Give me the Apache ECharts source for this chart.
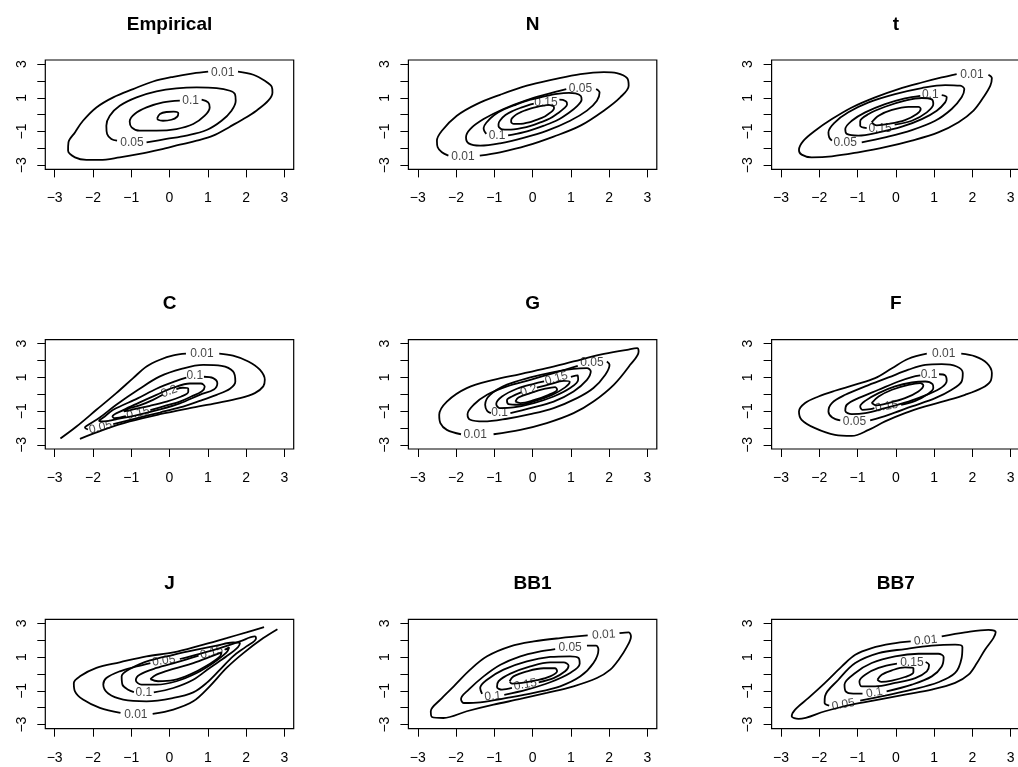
<!DOCTYPE html>
<html>
<head>
<meta charset="utf-8">
<script src="https://cdn.jsdelivr.net/npm/echarts@6/dist/echarts.min.js"></script>
<style>
  html, body { margin: 0; padding: 0; background: #fff; }
  #chart { width: 1018px; height: 767px; }
</style>
</head>
<body>
<div id="chart"></div>
<script>
// Panel titles, in reading order (3 x 3)
const panelTitles = ['Empirical', 'N', 't', 'C', 'G', 'F', 'J', 'BB1', 'BB7'];

// Axis ticks and labels
const xTickValues = [-3, -2, -1, 0, 1, 2, 3];
const yTickValues = [-3, -2, -1, 0, 1, 2, 3];
const yLabelValues = [-3, -1, 1, 3];
const axisLimit = 3.245;

// Contour lines: each path is a list of [x, y]; labelled contours are open at the label
const empiricalPaths = [
  [[1.79,2.55],[2.19,2.37],[2.49,2.01],[2.67,1.66],[2.69,1.32],[2.58,0.83],[2.27,0.24],[1.93,-0.26],[1.58,-0.71],[1.14,-1.24],[0.71,-1.54],[0.27,-1.78],[-0.25,-2.07],[-0.78,-2.33],[-1.30,-2.53],[-1.82,-2.68],[-2.17,-2.68],[-2.47,-2.53],[-2.65,-2.13],[-2.64,-1.64],[-2.47,-1.05],[-2.26,-0.36],[-1.91,0.43],[-1.47,1.03],[-0.95,1.52],[-0.43,1.97],[0.10,2.25],[0.62,2.45],[1.01,2.55]],
  [[-0.60,-1.64],[-0.08,-1.44],[0.44,-1.24],[0.97,-0.91],[1.36,-0.36],[1.62,0.24],[1.73,0.83],[1.71,1.22],[1.58,1.42],[1.23,1.58],[0.71,1.62],[0.18,1.56],[-0.34,1.38],[-0.86,1.03],[-1.30,0.53],[-1.56,-0.06],[-1.65,-0.65],[-1.63,-1.15],[-1.52,-1.44],[-1.37,-1.54]],
  [[0.84,0.89],[1.01,0.73],[1.05,0.43],[0.92,-0.06],[0.62,-0.55],[0.18,-0.85],[-0.34,-0.95],[-0.78,-0.95],[-0.99,-0.75],[-1.04,-0.40],[-0.91,0.04],[-0.60,0.43],[-0.17,0.73],[0.27,0.83]],
  [[-0.32,-0.20],[-0.25,0.04],[-0.08,0.16],[0.11,0.18],[0.23,0.08],[0.20,-0.12],[0.05,-0.30],[-0.17,-0.36],[-0.30,-0.30],[-0.32,-0.20]]
];
const empiricalLabels = [[1.39,2.51,'0.01',0],[0.55,0.83,'0.1',0],[-0.98,-1.66,'0.05',0]];

const normalPaths = [
  [[-1.38,-2.43],[-0.85,-2.23],[-0.15,-1.84],[0.55,-1.30],[1.25,-0.65],[1.86,0.24],[2.29,1.03],[2.51,1.72],[2.47,2.17],[2.20,2.47],[1.86,2.53],[1.25,2.41],[0.55,2.09],[-0.15,1.72],[-0.85,1.18],[-1.46,0.63],[-1.98,-0.06],[-2.37,-0.95],[-2.50,-1.54],[-2.48,-1.93],[-2.37,-2.23],[-2.20,-2.43]],
  [[1.66,1.52],[1.75,1.32],[1.68,0.83],[1.42,0.24],[0.98,-0.36],[0.38,-0.95],[-0.24,-1.38],[-0.85,-1.70],[-1.37,-1.84],[-1.67,-1.70],[-1.74,-1.34],[-1.63,-0.85],[-1.28,-0.26],[-0.76,0.34],[-0.15,0.87],[0.38,1.22],[0.88,1.52]],
  [[-0.64,-1.23],[-0.43,-1.14],[-0.08,-0.94],[0.28,-0.66],[0.64,-0.33],[0.95,0.12],[1.17,0.53],[1.28,0.88],[1.26,1.11],[1.12,1.26],[0.95,1.29],[0.64,1.23],[0.28,1.07],[-0.08,0.88],[-0.43,0.60],[-0.74,0.32],[-1.01,-0.03],[-1.21,-0.48],[-1.28,-0.79],[-1.26,-0.98],[-1.21,-1.14]],
  [[0.03,0.66],[-0.05,0.61],[-0.30,0.42],[-0.52,0.22],[-0.71,-0.02],[-0.85,-0.34],[-0.89,-0.55],[-0.89,-0.69],[-0.85,-0.80],[-0.79,-0.87],[-0.64,-0.89],[-0.49,-0.87],[-0.30,-0.80],[-0.05,-0.66],[0.20,-0.46],[0.45,-0.23],[0.66,0.09],[0.82,0.37],[0.90,0.61],[0.88,0.77],[0.79,0.88],[0.70,0.90]],
  [[-0.31,-0.55],[-0.19,-0.50],[-0.04,-0.42],[0.12,-0.29],[0.29,-0.14],[0.42,0.06],[0.52,0.23],[0.56,0.38],[0.55,0.49],[0.49,0.55],[0.42,0.58],[0.29,0.54],[0.12,0.47],[-0.04,0.38],[-0.19,0.26],[-0.32,0.14],[-0.44,-0.01],[-0.54,-0.22],[-0.56,-0.35],[-0.56,-0.43],[-0.54,-0.50],[-0.49,-0.55],[-0.31,-0.55]]
];
const normalLabels = [[-1.82,-2.47,'0.01',0],[1.25,1.56,'0.05',0],[0.35,0.73,'0.15',0],[-0.93,-1.24,'0.1',0]];

const studentPaths = [
  [[2.42,2.37],[2.51,2.17],[2.47,1.72],[2.29,1.03],[2.03,0.24],[1.64,-0.45],[1.11,-1.05],[0.42,-1.54],[-0.28,-1.93],[-0.98,-2.23],[-1.67,-2.47],[-2.20,-2.53],[-2.46,-2.37],[-2.53,-2.09],[-2.41,-1.54],[-2.11,-0.95],[-1.67,-0.26],[-1.15,0.43],[-0.54,1.03],[0.07,1.52],[0.68,1.91],[1.20,2.21],[1.59,2.41]],
  [[-0.89,-1.64],[-0.28,-1.34],[0.42,-0.91],[1.03,-0.36],[1.46,0.34],[1.72,1.03],[1.79,1.52],[1.68,1.72],[1.29,1.76],[0.68,1.58],[-0.02,1.22],[-0.71,0.73],[-1.24,0.14],[-1.59,-0.45],[-1.76,-1.05],[-1.74,-1.34],[-1.67,-1.54]],
  [[1.20,1.16],[1.33,1.03],[1.29,0.73],[1.07,0.24],[0.68,-0.26],[0.16,-0.71],[-0.45,-1.05],[-0.98,-1.24],[-1.28,-1.14],[-1.32,-0.85],[-1.15,-0.36],[-0.80,0.14],[-0.28,0.63],[0.24,0.97],[0.64,1.12]],
  [[-0.03,-0.59],[0.42,-0.36],[0.81,0.14],[0.98,0.63],[0.94,0.91],[0.68,0.99],[0.24,0.83],[-0.28,0.47],[-0.71,0.04],[-0.93,-0.39],[-0.93,-0.65],[-0.76,-0.79]],
  [[-0.63,-0.45],[-0.45,-0.06],[-0.10,0.28],[0.33,0.47],[0.59,0.47],[0.65,0.34],[0.55,0.04],[0.24,-0.32],[-0.19,-0.55],[-0.50,-0.63],[-0.63,-0.45]]
];
const studentLabels = [[1.99,2.37,'0.01',0],[0.90,1.16,'0.1',0],[-0.41,-0.85,'0.15',0],[-1.32,-1.68,'0.05',0]];

const claytonPaths = [
  [[-2.85,-2.62],[-2.43,-1.91],[-1.91,-0.92],[-1.39,0.07],[-0.95,0.96],[-0.60,1.65],[-0.25,2.05],[0.10,2.31],[0.43,2.41]],
  [[1.30,2.41],[1.66,2.29],[2.06,1.95],[2.36,1.46],[2.49,0.86],[2.45,0.47],[2.23,0.07],[1.84,-0.23],[1.23,-0.52],[0.53,-0.82],[-0.25,-1.18],[-1.04,-1.61],[-1.73,-2.11],[-2.34,-2.64]],
  [[-1.47,-1.77],[-0.82,-1.40],[-0.25,-1.08],[0.27,-0.78],[0.79,-0.39],[1.23,-0.03],[1.58,0.33],[1.72,0.76],[1.66,1.36],[1.36,1.69],[0.88,1.75],[0.31,1.51],[-0.25,1.06],[-0.82,0.27],[-1.39,-0.62],[-1.82,-1.38],[-2.15,-1.85],[-2.21,-1.97],[-2.13,-2.09]],
  [[0.90,1.04],[1.14,0.96],[1.25,0.66],[1.16,0.29],[0.79,-0.03],[0.27,-0.54],[-0.25,-0.90],[-0.82,-1.22],[-1.39,-1.48],[-1.73,-1.61],[-1.84,-1.57],[-1.73,-1.38],[-1.47,-0.92],[-0.82,-0.23],[-0.34,0.33],[0.18,0.80],[0.44,0.99]],
  [[-0.50,-0.94],[-0.08,-0.66],[0.27,-0.43],[0.57,-0.13],[0.84,0.17],[0.92,0.45],[0.82,0.64],[0.53,0.64],[0.10,0.39],[-0.34,-0.03],[-0.82,-0.52],[-1.21,-0.94],[-1.49,-1.32],[-1.43,-1.42],[-1.14,-1.30]],
  [[0.18,0.31],[0.34,0.39],[0.49,0.33],[0.49,0.13],[0.31,-0.13],[-0.08,-0.43],[-0.51,-0.68],[-0.95,-0.90],[-1.19,-1.02],[-1.12,-0.88],[-0.78,-0.66],[-0.43,-0.33],[-0.18,-0.03]]
];
const claytonLabels = [[0.85,2.41,'0.01',0],[0.66,1.12,'0.1',0],[-0.01,0.17,'0.2',20],[-0.82,-1.12,'0.15',14],[-1.80,-1.96,'0.05',14]];

const gumbelPaths = [
  [[-1.02,-2.37],[-0.32,-2.11],[0.37,-1.71],[1.07,-1.12],[1.59,-0.43],[2.12,0.56],[2.55,1.75],[2.77,2.54],[2.73,2.74],[2.47,2.64],[1.77,2.35],[1.07,1.95],[0.37,1.55],[-0.32,1.20],[-1.02,0.86],[-1.72,0.37],[-2.24,-0.43],[-2.44,-1.22],[-2.41,-1.71],[-2.24,-2.11],[-1.87,-2.37]],
  [[1.94,1.95],[2.01,1.75],[1.90,1.16],[1.59,0.37],[1.16,-0.23],[0.55,-0.82],[-0.06,-1.18],[-0.67,-1.45],[-1.28,-1.61],[-1.63,-1.51],[-1.70,-1.18],[-1.54,-0.62],[-1.19,-0.03],[-0.67,0.47],[-0.06,0.86],[0.55,1.26],[1.18,1.69]],
  [[-0.58,-1.12],[-0.06,-0.82],[0.55,-0.43],[1.07,0.17],[1.42,0.86],[1.52,1.36],[1.42,1.55],[1.07,1.51],[0.55,1.32],[-0.06,1.00],[-0.67,0.57],[-1.11,-0.03],[-1.24,-0.62],[-1.19,-0.98],[-1.09,-1.12]],
  [[1.00,1.04],[1.18,1.12],[1.19,0.86],[0.98,0.37],[0.55,-0.13],[0.03,-0.52],[-0.50,-0.78],[-0.86,-0.82],[-0.95,-0.58],[-0.80,-0.13],[-0.41,0.33],[0.03,0.62],[0.30,0.76]],
  [[0.11,0.39],[0.46,0.60],[0.81,0.80],[0.97,0.74],[0.85,0.41],[0.51,-0.03],[0.07,-0.39],[-0.37,-0.62],[-0.63,-0.58],[-0.67,-0.35],[-0.54,-0.13],[-0.30,0.11]],
  [[-0.45,-0.43],[-0.37,-0.19],[-0.06,0.07],[0.33,0.33],[0.59,0.43],[0.64,0.27],[0.42,-0.03],[0.03,-0.35],[-0.32,-0.52],[-0.45,-0.43]]
];
const gumbelLabels = [[-1.50,-2.41,'0.01',0],[1.55,1.85,'0.05',0],[-0.86,-1.10,'0.1',0],[0.62,0.94,'0.15',15],[-0.10,0.22,'0.2',18]];

const frankPaths = [
  [[1.71,2.41],[2.07,2.25],[2.38,1.85],[2.51,1.26],[2.47,0.76],[2.25,0.37],[1.81,-0.03],[1.29,-0.39],[0.77,-0.72],[0.24,-1.12],[-0.28,-1.61],[-0.71,-2.11],[-1.15,-2.47],[-1.59,-2.41],[-2.11,-2.01],[-2.46,-1.51],[-2.53,-1.02],[-2.37,-0.52],[-2.02,-0.13],[-1.59,0.21],[-1.06,0.57],[-0.54,0.96],[-0.10,1.55],[0.33,2.11],[0.81,2.41]],
  [[-0.67,-1.55],[-0.19,-1.22],[0.42,-0.72],[1.03,-0.23],[1.46,0.27],[1.72,0.76],[1.75,1.26],[1.59,1.65],[1.20,1.79],[0.77,1.75],[0.33,1.46],[-0.19,1.00],[-0.80,0.47],[-1.32,-0.03],[-1.67,-0.52],[-1.76,-1.02],[-1.66,-1.38],[-1.45,-1.55]],
  [[1.13,1.19],[1.29,1.12],[1.33,0.80],[1.20,0.41],[0.85,0.01],[0.33,-0.43],[-0.28,-0.82],[-0.80,-1.12],[-1.15,-1.18],[-1.32,-0.98],[-1.28,-0.62],[-0.98,-0.23],[-0.45,0.27],[0.07,0.76],[0.42,1.02],[0.64,1.12]],
  [[0.14,-0.62],[0.51,-0.39],[0.81,-0.03],[0.98,0.37],[0.96,0.60],[0.77,0.76],[0.42,0.70],[-0.02,0.47],[-0.45,0.07],[-0.80,-0.39],[-0.93,-0.72],[-0.87,-0.92],[-0.67,-0.88],[-0.56,-0.82]],
  [[-0.63,-0.52],[-0.45,-0.13],[-0.10,0.27],[0.33,0.56],[0.64,0.66],[0.72,0.52],[0.59,0.17],[0.24,-0.23],[-0.19,-0.52],[-0.50,-0.66],[-0.63,-0.52]]
];
const frankLabels = [[1.25,2.41,'0.01',0],[0.87,1.16,'0.1',0],[-0.24,-0.72,'0.15',10],[-1.08,-1.61,'0.05',0]];

const joePaths = [
  [[-0.44,-2.37],[0.10,-2.11],[0.62,-1.62],[1.05,-0.73],[1.49,0.36],[1.93,1.24],[2.45,2.13],[2.82,2.66]],
  [[-1.28,-2.31],[-1.82,-2.01],[-2.26,-1.52],[-2.47,-1.03],[-2.50,-0.53],[-2.34,-0.14],[-1.91,0.36],[-1.30,0.69],[-0.60,1.05],[0.10,1.28],[0.79,1.68],[1.49,2.13],[2.01,2.47],[2.47,2.78]],
  [[0.27,0.89],[0.79,1.20],[1.32,1.54],[1.84,1.93],[2.23,2.23],[2.26,2.11],[2.01,1.64],[1.66,1.05],[1.32,0.26],[0.97,-0.53],[0.62,-1.09],[0.10,-1.42],[-0.60,-1.62],[-1.21,-1.52],[-1.60,-1.16],[-1.73,-0.63],[-1.65,-0.24],[-1.30,0.16],[-0.86,0.45],[-0.50,0.65]],
  [[-0.41,-1.09],[0.10,-0.83],[0.62,-0.34],[1.05,0.36],[1.49,1.05],[1.79,1.60],[1.84,1.84],[1.66,1.87],[1.23,1.68],[0.71,1.44],[0.10,1.14],[-0.51,0.81],[-0.99,0.36],[-1.25,-0.14],[-1.23,-0.63],[-1.08,-0.93],[-0.93,-1.07]],
  [[1.44,1.44],[1.56,1.58],[1.49,1.28],[1.14,0.65],[0.71,0.06],[0.18,-0.43],[-0.34,-0.63],[-0.73,-0.63],[-0.88,-0.37],[-0.78,-0.04],[-0.34,0.36],[0.18,0.69],[0.76,1.09]],
  [[-0.50,-0.30],[-0.34,-0.04],[0.10,0.30],[0.62,0.65],[1.14,1.09],[1.36,1.28],[1.32,1.05],[0.97,0.49],[0.53,-0.04],[0.10,-0.37],[-0.30,-0.43],[-0.50,-0.30]]
];
const joeLabels = [[-0.88,-2.41,'0.01',0],[-0.15,0.78,'0.05',8],[-0.67,-1.12,'0.1',0],[1.10,1.28,'0.15',15]];

const bb1Paths = [
  [[2.27,2.43],[2.51,2.47],[2.57,2.23],[2.47,1.64],[2.25,0.85],[2.03,0.26],[1.68,-0.24],[1.07,-0.73],[0.37,-1.12],[-0.32,-1.48],[-1.02,-1.82],[-1.72,-2.21],[-2.33,-2.61],[-2.63,-2.55],[-2.66,-2.21],[-2.41,-1.52],[-2.06,-0.73],[-1.63,0.26],[-1.19,1.05],[-0.58,1.64],[0.03,1.93],[0.72,2.13],[1.44,2.29]],
  [[1.42,1.68],[1.66,1.68],[1.72,1.44],[1.59,0.65],[1.25,-0.14],[0.72,-0.73],[0.03,-1.12],[-0.67,-1.42],[-1.37,-1.68],[-1.80,-1.72],[-1.87,-1.48],[-1.67,-0.93],[-1.28,-0.14],[-0.84,0.55],[-0.32,1.05],[0.20,1.34],[0.59,1.48]],
  [[-0.74,-1.24],[-0.15,-0.93],[0.46,-0.49],[0.98,0.06],[1.23,0.61],[1.20,0.95],[0.98,1.05],[0.46,1.01],[-0.15,0.75],[-0.76,0.26],[-1.19,-0.34],[-1.37,-0.83],[-1.32,-1.18]],
  [[0.16,-0.49],[0.55,-0.24],[0.85,0.16],[0.94,0.49],[0.81,0.69],[0.46,0.69],[-0.06,0.45],[-0.58,0.02],[-0.89,-0.43],[-0.93,-0.77],[-0.80,-0.93],[-0.54,-0.83]],
  [[-0.60,-0.43],[-0.50,-0.14],[-0.15,0.16],[0.29,0.34],[0.59,0.34],[0.64,0.16],[0.46,-0.14],[0.11,-0.37],[-0.28,-0.53],[-0.54,-0.57],[-0.60,-0.43]]
];
const bb1Labels = [[1.86,2.33,'0.01',3],[0.98,1.58,'0.05',0],[-1.04,-1.32,'0.1',5],[-0.19,-0.63,'0.15',10]];

const bb7Paths = [
  [[1.20,2.23],[1.81,2.47],[2.42,2.62],[2.61,2.49],[2.55,2.13],[2.33,1.44],[2.12,0.65],[1.90,-0.04],[1.55,-0.53],[0.94,-0.93],[0.24,-1.22],[-0.45,-1.52],[-1.15,-1.82],[-1.85,-2.21],[-2.54,-2.66],[-2.72,-2.51],[-2.63,-2.11],[-2.28,-1.42],[-1.85,-0.53],[-1.41,0.45],[-1.06,1.14],[-0.63,1.54],[-0.10,1.80],[0.39,1.93]],
  [[-0.93,-1.58],[-0.28,-1.28],[0.42,-0.93],[1.11,-0.49],[1.55,0.06],[1.72,0.95],[1.74,1.60],[1.55,1.74],[0.94,1.68],[0.24,1.48],[-0.45,1.24],[-1.06,0.65],[-1.50,-0.34],[-1.85,-1.32],[-1.86,-1.72],[-1.74,-1.87]],
  [[-0.24,-1.03],[0.42,-0.63],[0.94,-0.14],[1.20,0.45],[1.25,1.01],[1.11,1.20],[0.59,1.20],[-0.02,1.05],[-0.63,0.65],[-1.06,0.06],[-1.34,-0.63],[-1.31,-1.03],[-1.11,-1.16],[-0.87,-1.16]],
  [[0.78,0.71],[0.87,0.53],[0.81,0.16],[0.51,-0.24],[-0.02,-0.53],[-0.54,-0.73],[-0.89,-0.73],[-0.95,-0.43],[-0.80,-0.04],[-0.45,0.36],[0.03,0.61]],
  [[-0.48,-0.34],[-0.37,-0.04],[-0.10,0.22],[0.24,0.39],[0.46,0.36],[0.46,0.10],[0.24,-0.18],[-0.10,-0.39],[-0.38,-0.47],[-0.48,-0.34]]
];
const bb7Labels = [[0.78,1.99,'0.01',5],[0.42,0.65,'0.15',0],[-0.56,-1.12,'0.1',10],[-1.37,-1.82,'0.05',10]];

const panelPaths = [empiricalPaths, normalPaths, studentPaths, claytonPaths, gumbelPaths, frankPaths, joePaths, bb1Paths, bb7Paths];
const panelLabels = [empiricalLabels, normalLabels, studentLabels, claytonLabels, gumbelLabels, frankLabels, joeLabels, bb1Labels, bb7Labels];

// Panel box placement (px)
const colLeft = [45.3, 408.4, 771.6];
const rowTop = [60, 339.6, 619.3];
const boxW = 248.4;
const boxH = 109.4;

const FONT = '"Liberation Sans", Arial, Helvetica, sans-serif';
const fmt = v => (v < 0 ? '\u2212' + Math.abs(v) : String(v));

const grids = [], xAxes = [], yAxes = [], series = [], graphics = [];

panelTitles.forEach((title, i) => {
  const c = i % 3, r = Math.floor(i / 3);
  grids.push({
    left: colLeft[c], top: rowTop[r], width: boxW, height: boxH,
    show: true, borderColor: '#000', borderWidth: 1.2, backgroundColor: 'transparent',
    containLabel: false, outerBoundsMode: 'none'
  });
  xAxes.push({
    type: 'value', gridIndex: i, min: -axisLimit, max: axisLimit, position: 'bottom',
    axisLine: { show: false, onZero: false }, splitLine: { show: false },
    axisTick: { show: true, inside: false, customValues: xTickValues, length: 8, lineStyle: { color: '#000', width: 1 } },
    axisLabel: { customValues: xTickValues, formatter: fmt, color: '#000', fontSize: 14, fontFamily: FONT, margin: 22 }
  });
  yAxes.push({
    type: 'value', gridIndex: i, min: -axisLimit, max: axisLimit, position: 'left',
    axisLine: { show: false, onZero: false }, splitLine: { show: false },
    axisTick: { show: true, inside: false, customValues: yTickValues, length: 8, lineStyle: { color: '#000', width: 1 } },
    axisLabel: { customValues: yLabelValues, formatter: fmt, rotate: 90, color: '#000', fontSize: 14, fontFamily: FONT, margin: 16 }
  });
  panelPaths[i].forEach(path => {
    series.push({
      type: 'line', xAxisIndex: i, yAxisIndex: i, data: path,
      showSymbol: false, symbol: 'none', smooth: 0.35, silent: true, clip: true,
      lineStyle: { color: '#000', width: 1.8 }, z: 2
    });
  });
  series.push({
    type: 'scatter', xAxisIndex: i, yAxisIndex: i, silent: true, z: 3,
    symbolSize: 1, itemStyle: { color: 'rgba(0,0,0,0)' },
    data: panelLabels[i].map(l => ({ value: [l[0], l[1]], name: l[2], label: { rotate: l[3] } })),
    label: { show: true, position: 'inside', formatter: '{b}', color: '#111', fontSize: 12, fontFamily: FONT }
  });
  graphics.push({
    type: 'text', x: colLeft[c] + boxW / 2, y: rowTop[r] - 35.5,
    style: { text: title, align: 'center', verticalAlign: 'middle', fill: '#000', font: 'bold 19px ' + FONT }
  });
});

const chart = echarts.init(document.getElementById('chart'), null, { renderer: 'canvas' });
chart.setOption({
  animation: false,
  backgroundColor: '#fff',
  grid: grids, xAxis: xAxes, yAxis: yAxes, series: series, graphic: graphics
});
</script>
</body>
</html>
